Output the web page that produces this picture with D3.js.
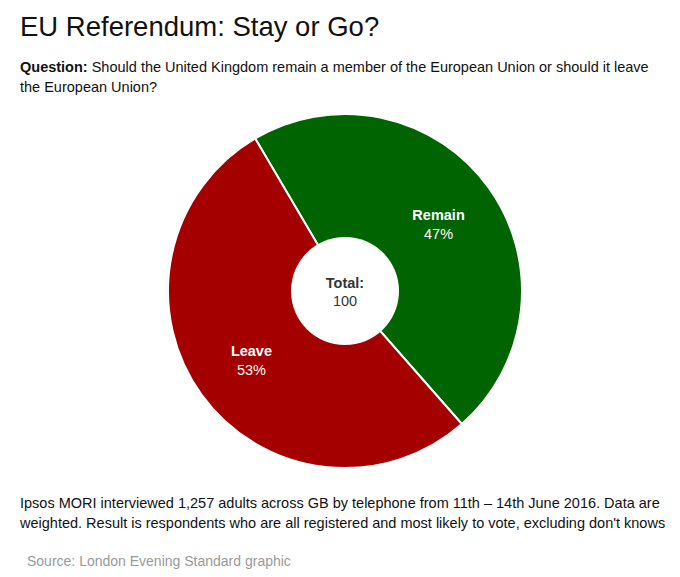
<!DOCTYPE html>
<html>
<head>
<meta charset="utf-8">
<script src="https://cdn.jsdelivr.net/npm/d3@7"></script>
<style>
  body { margin: 0; background: #fff; }
  text { font-family: "Liberation Sans", Arial, sans-serif; }
</style>
</head>
<body>
<svg id="chart"></svg>
<script>
// poll result
const categories = ["Remain", "Leave"];
const values = [47, 53];
const colors = ["#006400", "#a50000"];
const total = 100;

const questionLines = [
  "Should the United Kingdom remain a member of the European Union or should it leave",
  "the European Union?"
];
const noteLines = [
  "Ipsos MORI interviewed 1,257 adults across GB by telephone from 11th \u2013 14th June 2016. Data are",
  "weighted. Result is respondents who are all registered and most likely to vote, excluding don't knows"
];

const w = 680, h = 577;
const svg = d3.select("#chart").attr("width", w).attr("height", h);

// title + question
svg.append("text")
  .attr("x", 20).attr("y", 36)
  .attr("font-size", 27.5).attr("fill", "#111")
  .text("EU Referendum: Stay or Go?");

const q = svg.append("text")
  .attr("x", 20).attr("y", 72)
  .attr("font-size", 14.5).attr("fill", "#111");
q.append("tspan").attr("font-weight", "bold").text("Question: ");
q.append("tspan").text(questionLines[0]);
svg.append("text")
  .attr("x", 20).attr("y", 92)
  .attr("font-size", 14.5).attr("fill", "#111")
  .text(questionLines[1]);

// donut
const cx = 345, cy = 291;
const outerR = 177, innerR = 54;
const g = svg.append("g").attr("transform", `translate(${cx},${cy})`);

const startA = -30.5 * Math.PI / 180;
const pie = d3.pie()
  .sort(null)
  .startAngle(startA)
  .endAngle(startA + 2 * Math.PI);
const arcs = pie(values);

const arc = d3.arc().innerRadius(0).outerRadius(outerR);
const labelArc = d3.arc().innerRadius(innerR).outerRadius(outerR);

g.selectAll("path.slice")
  .data(arcs)
  .enter()
  .append("path")
  .attr("class", "slice")
  .attr("d", arc)
  .attr("fill", (d, i) => colors[i])
  .attr("stroke", "#fff")
  .attr("stroke-width", 2);

g.append("circle").attr("r", innerR).attr("fill", "#fff");

const labels = g.selectAll("g.lbl")
  .data(arcs)
  .enter()
  .append("g")
  .attr("class", "lbl")
  .attr("transform", d => {
    const c = labelArc.centroid(d);
    return `translate(${c[0]},${c[1]})`;
  });
labels.append("text")
  .attr("text-anchor", "middle")
  .attr("y", -3)
  .attr("font-size", 14.5).attr("font-weight", "bold").attr("fill", "#fff")
  .text((d, i) => categories[i]);
labels.append("text")
  .attr("text-anchor", "middle")
  .attr("y", 16)
  .attr("font-size", 14.5).attr("fill", "#fff")
  .text(d => Math.round(d.data / total * 100) + "%");

g.append("text")
  .attr("text-anchor", "middle").attr("y", -3)
  .attr("font-size", 14.5).attr("font-weight", "bold").attr("fill", "#333")
  .text("Total:");
g.append("text")
  .attr("text-anchor", "middle").attr("y", 15)
  .attr("font-size", 14.5).attr("fill", "#333")
  .text(d3.sum(values));

// notes
noteLines.forEach((t, i) => {
  svg.append("text")
    .attr("x", 20).attr("y", 508 + i * 20)
    .attr("font-size", 14.5).attr("fill", "#111")
    .text(t);
});
svg.append("text")
  .attr("x", 27).attr("y", 566)
  .attr("font-size", 14).attr("fill", "#999")
  .text("Source: London Evening Standard graphic");
</script>
</body>
</html>
